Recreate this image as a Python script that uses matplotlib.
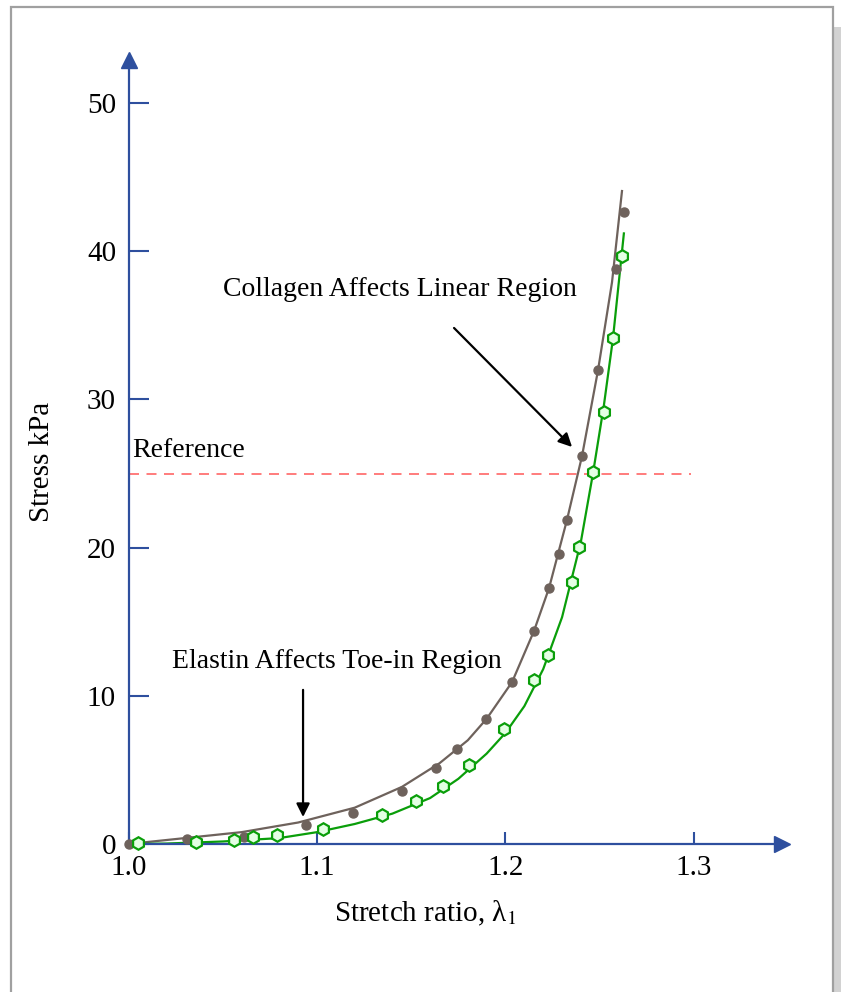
import matplotlib
matplotlib.use("Agg")
import matplotlib.pyplot as plt
from matplotlib.patches import Rectangle

plt.rcParams['font.family'] = ['Liberation Serif', 'DejaVu Serif']
plt.rcParams['mathtext.fontset'] = 'stix'

# measured data points
collagen_x = [1.0, 1.0310, 1.0613, 1.0942, 1.1191, 1.1451, 1.1631, 1.1743, 1.1897,
              1.2035, 1.2151, 1.2231, 1.2284, 1.2326, 1.2406, 1.2491, 1.2586, 1.2629]
collagen_y = [0.0, 0.34, 0.47, 1.28, 2.09, 3.58, 5.13, 6.41, 8.43,
              10.93, 14.37, 17.27, 19.57, 21.86, 26.18, 31.98, 38.80, 42.65]

elastin_x = [1.0050, 1.0358, 1.0560, 1.0660, 1.0788, 1.1032, 1.1345, 1.1525, 1.1668,
             1.1806, 1.1992, 1.2151, 1.2226, 1.2353, 1.2390, 1.2464, 1.2522, 1.2570, 1.2618]
elastin_y = [0.07, 0.13, 0.27, 0.47, 0.61, 1.01, 1.96, 2.90, 3.91,
             5.33, 7.76, 11.07, 12.75, 17.68, 20.04, 25.10, 29.15, 34.14, 39.68]

# fitted curves
collagen_fit_x = [1.0, 1.03, 1.06, 1.09, 1.12, 1.145, 1.165, 1.18, 1.19,
                  1.2035, 1.2151, 1.2231, 1.2326, 1.2406, 1.2491, 1.2565, 1.2618]
collagen_fit_y = [0.0, 0.40, 0.80, 1.45, 2.45, 3.85, 5.45, 7.00, 8.45,
                  10.93, 14.37, 17.27, 21.86, 26.18, 31.98, 37.90, 44.06]

elastin_fit_x = [1.0, 1.02, 1.05, 1.08, 1.10, 1.12, 1.14, 1.16, 1.175, 1.19,
                 1.20, 1.21, 1.22, 1.23, 1.24, 1.2464, 1.2522, 1.257, 1.2628]
elastin_fit_y = [0.0, 0.03, 0.17, 0.40, 0.80, 1.35, 2.05, 3.10, 4.40, 6.10,
                 7.50, 9.30, 11.80, 15.30, 20.40, 25.00, 29.60, 34.10, 41.20]

reference_level = 25
x_ticks = [1.0, 1.1, 1.2, 1.3]
x_tick_labels = ['1.0', '1.1', '1.2', '1.3']
y_ticks = [0, 10, 20, 30, 40, 50]

W, H = 841, 992
FS = 21
FS_NOTE = 20
fig = plt.figure(figsize=(W / 100, H / 100), dpi=100)

# gray page frame with a shadow on the right
fig.add_artist(Rectangle((834 / W, 0), 7 / W, (H - 27) / H, transform=fig.transFigure,
                         facecolor='#d2d2d2', edgecolor='none', zorder=-2))
fig.add_artist(Rectangle((11 / W, -0.05), 822 / W, (H - 7) / H + 0.05, transform=fig.transFigure,
                         facecolor='white', edgecolor='#a0a0a0', linewidth=1.6, zorder=-1))

ax = fig.add_axes([128.5 / W, (H - 844) / H, 653.5 / W, 784 / H])
ax.set_xlim(1.0, 1.0 + 653.5 / 1885)
ax.set_ylim(0, 784 / 14.82)
ax.patch.set_alpha(0)

axis_color = '#2e4f9e'
for s in ['top', 'right']:
    ax.spines[s].set_visible(False)
for s in ['left', 'bottom']:
    ax.spines[s].set_color(axis_color)
    ax.spines[s].set_linewidth(1.6)

ax.plot(1, 0, '>', color=axis_color, markersize=11, transform=ax.transAxes, clip_on=False)
ax.plot(0, 1, '^', color=axis_color, markersize=11, transform=ax.transAxes, clip_on=False)

ax.set_xticks(x_ticks)
ax.set_xticklabels(x_tick_labels)
ax.set_yticks(y_ticks)
ax.tick_params(axis='x', direction='in', length=8.6, width=1.5, color=axis_color,
               labelsize=FS, pad=8)
ax.tick_params(axis='y', direction='in', length=14.4, width=1.5, color=axis_color,
               labelsize=FS, pad=9)

ax.plot([1.0, 1.2985], [reference_level, reference_level], color='#ff6666',
        linestyle=(0, (6, 4.5)), linewidth=1.2)
ax.text(1.002, reference_level + 0.7, 'Reference', fontsize=FS_NOTE, ha='left', va='bottom')

ax.plot(collagen_fit_x, collagen_fit_y, color='#6e625c', linewidth=1.6, zorder=2)
ax.plot(elastin_fit_x, elastin_fit_y, color='#0a9e0a', linewidth=1.6, zorder=2)
ax.plot(collagen_x, collagen_y, 'o', color='#6e625c', markersize=6.5, zorder=3, clip_on=False)
ax.plot(elastin_x, elastin_y, 'h', markerfacecolor='#e4ffe4', markeredgecolor='#0a9e0a',
        markeredgewidth=1.6, markersize=9, zorder=4, clip_on=False)

arrow = dict(arrowstyle='-|>', color='black', lw=1.6, mutation_scale=20, shrinkA=0, shrinkB=0)
ax.annotate('', xy=(1.2353, 26.79), xytext=(1.1727, 34.82), arrowprops=arrow)
ax.text(1.1440, 37.4, 'Collagen Affects Linear Region', fontsize=FS_NOTE, ha='center', va='center')

ax.annotate('', xy=(1.0926, 1.82), xytext=(1.0926, 10.4), arrowprops=arrow)
ax.text(1.1106, 12.3, 'Elastin Affects Toe-in Region', fontsize=FS_NOTE, ha='center', va='center')

fig.text(425 / W, 1 - 913 / H, 'Stretch ratio, λ$_1$', fontsize=FS, ha='center', va='center')
fig.text(42 / W, 1 - 462 / H, 'Stress kPa', fontsize=FS, ha='center', va='center', rotation=90)

fig.savefig('out.png', dpi=100)
